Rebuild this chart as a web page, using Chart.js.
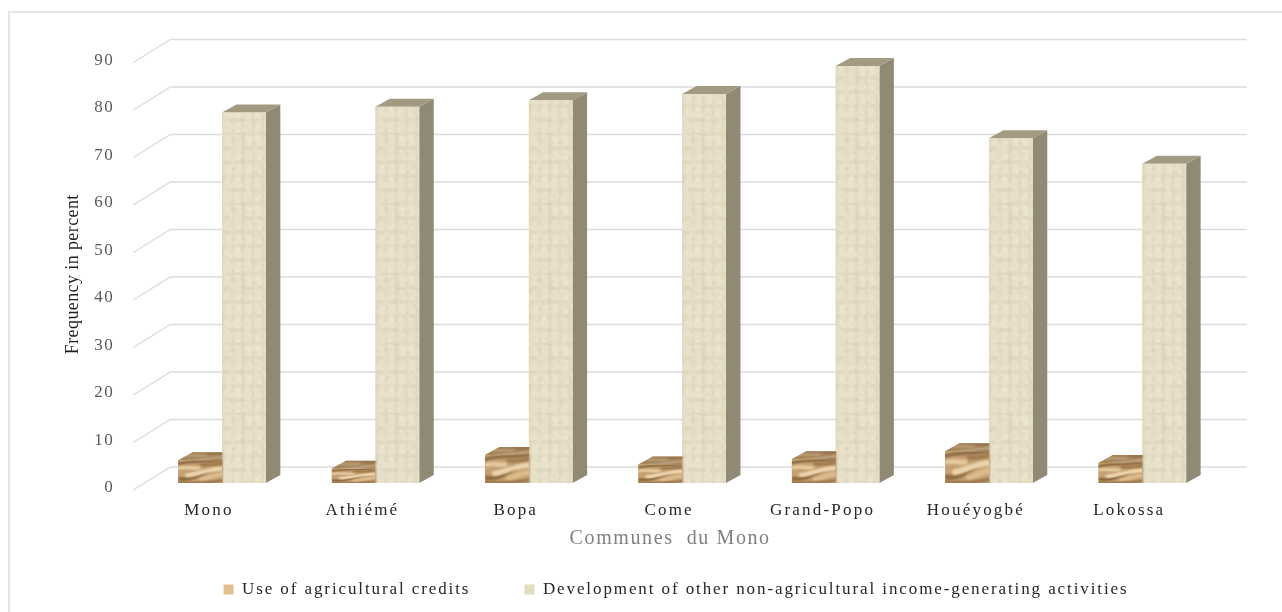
<!DOCTYPE html>
<html>
<head>
<meta charset="utf-8">
<style>html,body{margin:0;padding:0;background:#fff}canvas{display:block}</style>
<script src="https://cdn.jsdelivr.net/npm/chart.js@4/dist/chart.umd.js"></script>
</head>
<body>
<canvas id="c" width="1282" height="612"></canvas>
<script>
const communes = ['Mono', 'Athiémé', 'Bopa', 'Come', 'Grand-Popo', 'Houéyogbé', 'Lokossa'];
const agriculturalCredits = [4.8, 3.0, 5.9, 3.9, 5.0, 6.7, 4.2];
const otherActivities = [78, 79.2, 80.6, 81.9, 87.8, 72.6, 67.2];
const seriesNames = ['Use of agricultural credits', 'Development of other non-agricultural income-generating activities'];
const yTicks = [0, 10, 20, 30, 40, 50, 60, 70, 80, 90];

const SERIF = '"Liberation Serif", serif';
// Oblique depth of the bars and of the back wall
const BAR_DX = 14.5, BAR_DY = 8;
const WALL_DX = 37, WALL_DY = 23, WALL_LIFT = 16;
const WALL_RIGHT = 1247;

// Small repeatable hash, keeps the woven texture stable between renders
function hash(x, y) {
  const s = Math.sin(x * 12.9898 + y * 78.233) * 43758.5453;
  return s - Math.floor(s);
}

function burlapTile() {
  const raw = document.createElement('canvas');
  raw.width = raw.height = 70;
  const g = raw.getContext('2d');
  g.fillStyle = '#e9e1ca';
  g.fillRect(0, 0, 70, 70);
  for (let y = 0; y < 70; y += 2) {
    for (let x = 0; x < 70; x += 2) {
      const n = hash(x, y);
      const woven = ((x / 2) % 5 === 0 || (y / 2) % 7 === 0);
      if (woven) g.fillStyle = n > 0.5 ? 'rgba(150,135,100,0.20)' : 'rgba(190,175,140,0.08)';
      else g.fillStyle = n > 0.7 ? 'rgba(255,250,235,0.3)' : 'rgba(205,192,158,0.08)';
      g.fillRect(x, y, 2, 2);
    }
  }
  const c = document.createElement('canvas');
  c.width = c.height = 70;
  const s = c.getContext('2d');
  s.filter = 'blur(0.8px)';
  s.drawImage(raw, 0, 0);
  return c;
}

function woodTile() {
  const c = document.createElement('canvas');
  c.width = 44; c.height = 32;
  const g = c.getContext('2d');
  g.fillStyle = '#c6a071';
  g.fillRect(0, 0, 44, 32);
  g.filter = 'blur(1.3px)';
  const band = (color, width, pts) => {
    g.strokeStyle = color; g.lineWidth = width; g.lineCap = 'round';
    g.beginPath(); g.moveTo(pts[0], pts[1]);
    g.bezierCurveTo(pts[2], pts[3], pts[4], pts[5], pts[6], pts[7]);
    g.stroke();
  };
  band('#85633c', 3, [0, 5, 12, 0, 28, 3, 46, 0]);
  band('#a27d50', 5, [24, 6, 32, 8, 38, 5, 46, 4]);
  band('#e6cba2', 5, [2, 11, 8, 9, 14, 12, 20, 11]);
  band('#8c6a42', 5, [2, 26, 12, 29, 22, 20, 30, 15]);
  band('#ecd4ae', 6, [10, 21, 22, 20, 30, 11, 46, 12]);
  band('#dcbb8d', 6, [24, 27, 32, 23, 38, 21, 46, 19]);
  band('#96724a', 3, [0, 31, 14, 32, 30, 32, 46, 28]);
  return c;
}

const burlap = burlapTile();
const wood = woodTile();

// Per-element letter spacing and offsets, applied around the library's own text drawing
function wrapDraw(target, method, spacing, dx, dy) {
  const original = target[method];
  target[method] = function (...args) {
    const ctx = this.ctx;
    ctx.save();
    ctx.letterSpacing = spacing;
    ctx.translate(dx, dy);
    original.apply(this, args);
    ctx.restore();
  };
}

const serifSpacing = {
  id: 'serifSpacing',
  beforeUpdate(chart) { chart.ctx.letterSpacing = '2.2px'; },
  beforeDraw(chart) { chart.ctx.letterSpacing = '2.2px'; }
};

const wired = {
  id: 'wired',
  afterLayout(chart) {
    if (chart.$wired) return;
    chart.$wired = true;
    wrapDraw(chart.scales.y, 'drawLabels', '1.5px', 0, 5);
    wrapDraw(chart.scales.y, 'drawTitle', '0.4px', 62, 5);
    wrapDraw(chart.scales.x, 'drawTitle', '1.6px', -12, 24);
    wrapDraw(chart.legend, 'draw', '1.9px', 0, 0);
    chart.legend.left = 161;
  }
};

const backdrop = {
  id: 'backdrop',
  beforeDatasetsDraw(chart) {
    const { ctx, scales: { x, y } } = chart;
    ctx.save();
    // frame: the top and left edges only
    ctx.strokeStyle = '#e6e6e6';
    ctx.lineWidth = 2;
    ctx.beginPath();
    ctx.moveTo(9, 612); ctx.lineTo(9, 12); ctx.lineTo(1282, 12);
    ctx.stroke();
    // wall gridlines with their oblique run towards the axis
    ctx.strokeStyle = '#dcdcdc';
    ctx.lineWidth = 1.4;
    yTicks.forEach(v => {
      const wallY = y.getPixelForValue(v) - WALL_LIFT;
      const wallX = x.left + 25;
      ctx.beginPath();
      ctx.moveTo(wallX - WALL_DX, wallY + WALL_DY);
      ctx.lineTo(wallX, wallY);
      ctx.lineTo(WALL_RIGHT, wallY);
      ctx.stroke();
    });
    ctx.restore();
  }
};

function paintBar(ctx, bar, woodSeries) {
  const x0 = bar.x - bar.width / 2, x1 = bar.x + bar.width / 2;
  const top = bar.y, base = bar.base, h = base - top;
  ctx.save();
  // right side
  ctx.beginPath();
  ctx.moveTo(x1, top); ctx.lineTo(x1 + BAR_DX, top - BAR_DY);
  ctx.lineTo(x1 + BAR_DX, base - BAR_DY); ctx.lineTo(x1, base);
  ctx.closePath();
  ctx.fillStyle = woodSeries ? '#7d5c38' : '#908976';
  ctx.fill();
  ctx.restore();
  ctx.save();
  // top face
  ctx.beginPath();
  ctx.moveTo(x0, top); ctx.lineTo(x1, top);
  ctx.lineTo(x1 + BAR_DX, top - BAR_DY); ctx.lineTo(x0 + BAR_DX, top - BAR_DY);
  ctx.closePath();
  ctx.fillStyle = woodSeries ? '#8f6f4a' : '#a39a82';
  ctx.fill();
  if (woodSeries) {
    ctx.clip();
    ctx.globalAlpha = 0.45;
    ctx.drawImage(wood, x0, top - BAR_DY - 2, bar.width + BAR_DX, BAR_DY + 8);
  }
  ctx.restore();
  // front face
  ctx.save();
  ctx.beginPath();
  ctx.rect(x0, top, bar.width, h);
  ctx.clip();
  if (woodSeries) {
    ctx.drawImage(wood, x0, top, bar.width, h);
  } else {
    for (let ty = base - 70; ty > top - 70; ty -= 70) {
      for (let tx = x0; tx < x1; tx += 70) ctx.drawImage(burlap, tx, ty);
    }
  }
  ctx.restore();
}

// Paints the bar faces over the rectangles the library placed, first series underneath
const barFaces = {
  id: 'barFaces',
  afterDatasetsDraw(chart) {
    [0, 1].forEach(i => {
      chart.getDatasetMeta(i).data.forEach(bar => paintBar(chart.ctx, bar, i === 0));
    });
  }
};

new Chart(document.getElementById('c'), {
  type: 'bar',
  data: {
    labels: communes,
    datasets: [
      { label: seriesNames[0], data: agriculturalCredits, backgroundColor: '#e2bf8e' },
      { label: seriesNames[1], data: otherActivities, backgroundColor: '#e4dbc0' }
    ]
  },
  options: {
    responsive: false,
    animation: false,
    events: [],
    layout: { padding: { top: 55.5, right: 63, left: 0, bottom: 4 } },
    categoryPercentage: 0.5717,
    barPercentage: 1,
    scales: {
      x: {
        afterFit: s => { s.height = 44; },
        grid: { display: false },
        border: { display: false },
        ticks: {
          maxRotation: 0, autoSkip: false, labelOffset: -13, padding: 9,
          color: '#262626', font: { family: SERIF, size: 17 }
        },
        title: {
          display: true, text: 'Communes  du Mono', color: '#808080',
          font: { family: SERIF, size: 20 }, padding: { top: 6, bottom: 0 }
        }
      },
      y: {
        min: 0, max: 90,
        afterFit: s => { s.width = 145.3; },
        afterBuildTicks: s => { s.ticks = yTicks.map(value => ({ value })); },
        grid: { display: false },
        border: { display: false },
        ticks: { padding: 23, color: '#595959', font: { family: SERIF, size: 17 } },
        title: {
          display: true, text: 'Frequency in percent', color: '#1f1f1f',
          font: { family: SERIF, size: 18 }, padding: { top: 0, bottom: 0 }
        }
      }
    },
    plugins: {
      tooltip: { enabled: false },
      legend: {
        position: 'bottom',
        labels: {
          boxWidth: 10, boxHeight: 10, padding: 54,
          color: '#262626', font: { family: SERIF, size: 17 }
        }
      }
    }
  },
  plugins: [serifSpacing, wired, backdrop, barFaces]
});
</script>
</body>
</html>
